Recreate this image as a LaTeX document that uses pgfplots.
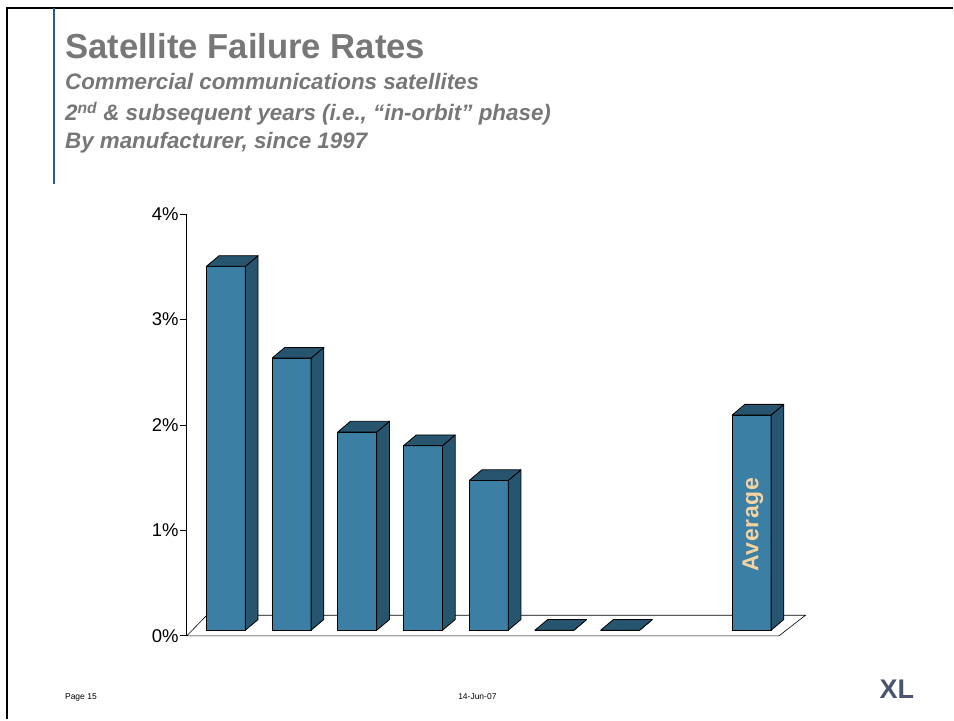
\documentclass[border=0pt]{standalone}
\usepackage{fontspec}
\setmainfont{Liberation Sans}
\usepackage{pgfplots}
\usepackage{pgfplotstable}
\pgfplotsset{compat=1.18}
\definecolor{front}{HTML}{3C7FA5}
\definecolor{dark}{HTML}{27546E}
\definecolor{avgtext}{HTML}{F5D3A1}
\definecolor{titlegray}{HTML}{777777}
\definecolor{rule}{HTML}{2F5A8A}
\definecolor{logo}{HTML}{4B5573}

\pgfplotstableread{
x y
0 3.45
1 2.58
2 1.88
3 1.75
4 1.42
5 0
6 0
8 2.04
}\rates

\begin{document}
\begin{tikzpicture}[x=1pt,y=1pt]
\begin{axis}[
  scale only axis, width=593pt, height=422.7pt,
  xmin=-0.596, xmax=8.416, ymin=-0.054, ymax=3.949,
  axis x line=bottom, axis y line=left,
  axis line style={-, black, line width=1pt},
  xtick=\empty,
  ytick={-0.054,0.946,1.946,2.946,3.946},
  yticklabels={0\%,1\%,2\%,3\%,4\%},
  tick align=outside, major tick length=7pt,
  ytick style={black, line width=0.8pt},
  yticklabel style={font=\fontsize{18.5}{20}\selectfont, inner sep=1pt},
  /pgf/number format/assume math mode=true,
  clip=false,
]
% floor
\addplot[fill=white, draw=black, line width=0.6pt] coordinates {(-0.596,-0.054) (8.416,-0.054) (8.82,0.142) (-0.29,0.142)} -- cycle;
% front faces
\addplot[ybar, bar width=0.593, fill=front, draw=black, line width=0.8pt] table[x=x,y=y]{\rates};
% side and top faces
\pgfplotsinvokeforeach{0,...,7}{%
  \pgfplotstablegetelem{#1}{x}\of\rates \let\bx\pgfplotsretval
  \pgfplotstablegetelem{#1}{y}\of\rates \let\by\pgfplotsretval
  \pgfmathsetmacro\xl{\bx-0.2965}
  \pgfmathsetmacro\xr{\bx+0.2965}
  \pgfmathsetmacro\xlb{\bx-0.2965+0.193}
  \pgfmathsetmacro\xrb{\bx+0.2965+0.193}
  \pgfmathsetmacro\yt{\by+0.101}
  \edef\tmp{\noexpand\addplot[fill=dark,draw=black,line width=0.8pt,line join=round] coordinates {(\xr,0) (\xr,\by) (\xrb,\yt) (\xrb,0.101)} -- cycle;
  \noexpand\addplot[fill=dark,draw=black,line width=0.8pt,line join=round] coordinates {(\xl,\by) (\xr,\by) (\xrb,\yt) (\xlb,\yt)} -- cycle;}%
  \tmp
}
\node[rotate=90, text=avgtext, font=\bfseries\fontsize{23}{23}\selectfont\addfontfeature{LetterSpace=3}] at (axis cs:8.02,1.0) {Average};
\coordinate (O) at (axis cs:0,0);
\end{axis}
\begin{scope}[shift={(O)}, xshift=-226.2pt, yshift=-89pt]
\path (0,0) rectangle (954,720);
% slide frame
\draw[black, line width=2.5pt] (7,0) -- (7,712) -- (954,712);
\draw[rule, line width=1.2pt] (54,712) -- (54,536);
% titles
\node[anchor=base west, inner sep=0pt, text=titlegray, font=\bfseries\fontsize{34.7}{40}\selectfont] at (65,661) {Satellite Failure Rates};
\node[anchor=base west, inner sep=0pt, text=titlegray, font=\bfseries\itshape\fontsize{22.4}{26}\selectfont] at (65,630) {Commercial communications satellites};
\node[anchor=base west, inner sep=0pt, text=titlegray, font=\bfseries\itshape\fontsize{22.4}{26}\selectfont] at (65,599) {2\textsuperscript{nd} \& subsequent years (i.e., “in-orbit” phase)};
\node[anchor=base west, inner sep=0pt, text=titlegray, font=\bfseries\itshape\fontsize{22.4}{26}\selectfont] at (65,571.5) {By manufacturer, since 1997};
% footer
\node[anchor=base west, inner sep=0pt, font=\fontsize{8.5}{10}\selectfont] at (65,20) {Page 15};
\node[anchor=base, inner sep=0pt, font=\fontsize{8.5}{10}\selectfont] at (478,20) {14-Jun-07};
\node[anchor=base, inner sep=0pt, text=logo, font=\bfseries\fontsize{27}{30}\selectfont] at (898,21) {XL};
\end{scope}
\end{tikzpicture}
\end{document}
